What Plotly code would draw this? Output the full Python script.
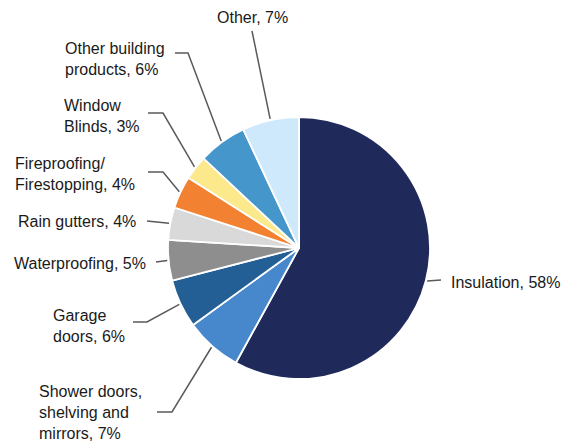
import math
import plotly.graph_objects as go

# Market share by product segment (clockwise from 12 o'clock)
segments = [
    "Insulation",
    "Shower doors, shelving and mirrors",
    "Garage doors",
    "Waterproofing",
    "Rain gutters",
    "Fireproofing/Firestopping",
    "Window Blinds",
    "Other building products",
    "Other",
]
shares = [58, 7, 6, 5, 4, 4, 3, 6, 7]
label_text = [
    "Insulation, 58%",
    "Shower doors,<br>shelving and<br>mirrors, 7%",
    "Garage<br>doors, 6%",
    "Waterproofing, 5%",
    "Rain gutters, 4%",
    "Fireproofing/<br>Firestopping, 4%",
    "Window<br>Blinds, 3%",
    "Other building<br>products, 6%",
    "Other, 7%",
]
colors = [
    "#1f2a5b", "#4788cc", "#235f94", "#8e8e8e", "#d9d9d9",
    "#f28232", "#fce98b", "#4597cb", "#cde9fb",
]

W, H = 562, 443
CX, CY, R = 299, 248, 131  # pie centre and radius in pixels

# Label placement (pixels): text left edge, text block centre y,
# leader-line knee points after leaving the slice edge.
label_layout = [
    dict(tx=449, ty=282, path=[(441, 280)]),
    dict(tx=37, ty=412, path=[(172, 412), (157, 412)]),
    dict(tx=51, ty=326, path=[(147, 322), (133, 322)]),
    dict(tx=12, ty=263, path=[(156, 262)]),
    dict(tx=16, ty=221, path=[(147, 221)]),
    dict(tx=13, ty=174, path=[(163, 172), (148, 172)]),
    dict(tx=62, ty=116, path=[(163, 113), (148, 113)]),
    dict(tx=63, ty=59, path=[(188, 53), (175, 53)]),
    dict(tx=215, ty=18, path=[(252, 31)]),
]


def px(x):
    return x / W


def py(y):
    return 1 - y / H


fig = go.Figure(
    go.Pie(
        labels=segments,
        values=shares,
        sort=False,
        direction="clockwise",
        rotation=0,
        textinfo="none",
        hoverinfo="skip",
        marker=dict(colors=colors, line=dict(color="white", width=1.8)),
        domain=dict(x=[px(CX - R), px(CX + R)], y=[py(CY + R), py(CY - R)]),
    )
)

total = sum(shares)
cum = 0
shapes = []
annotations = []
for value, text, lay in zip(shares, label_text, label_layout):
    mid = (cum + value / 2) / total * 2 * math.pi
    cum += value
    sx = CX + R * 1.01 * math.sin(mid)
    sy = CY - R * 1.01 * math.cos(mid)
    pts = [(sx, sy)] + lay["path"]
    d = "M {} {}".format(px(pts[0][0]), py(pts[0][1]))
    for x, y in pts[1:]:
        d += " L {} {}".format(px(x), py(y))
    shapes.append(dict(type="path", xref="paper", yref="paper", path=d,
                       line=dict(color="#5a5a5a", width=1.5)))
    annotations.append(dict(
        x=px(lay["tx"]), y=py(lay["ty"]), xref="paper", yref="paper",
        xanchor="left", yanchor="middle", align="left", showarrow=False,
        text=text, font=dict(family="Liberation Sans, Arial", size=16, color="#1a1a1a"),
    ))

fig.update_layout(
    width=W, height=H,
    margin=dict(l=0, r=0, t=0, b=0),
    paper_bgcolor="white",
    plot_bgcolor="white",
    showlegend=False,
    shapes=shapes,
    annotations=annotations,
)

fig.write_html("out.html")
